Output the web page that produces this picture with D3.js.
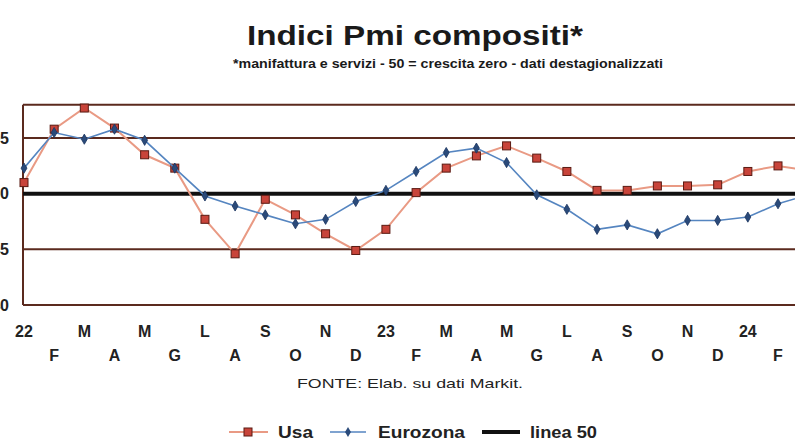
<!DOCTYPE html>
<html><head><meta charset="utf-8">
<script src="https://cdn.jsdelivr.net/npm/d3@7"></script>
<style>body{margin:0;background:#fff}svg{display:block}</style>
</head><body>
<svg id="c" width="795" height="448"></svg>
<script>
const months = ["22","F","M","A","M","G","L","A","S","O","N","D","23","F","M","A","M","G","L","A","S","O","N","D","24","F","M"];
const usa = [51.0,55.8,57.7,55.9,53.5,52.3,47.7,44.6,49.5,48.1,46.4,44.9,46.8,50.1,52.3,53.4,54.3,53.2,52.0,50.3,50.3,50.7,50.7,50.8,52.0,52.5,52.1];
const eurozona = [52.3,55.5,54.9,55.8,54.8,52.3,49.8,48.9,48.1,47.3,47.7,49.3,50.3,52.0,53.7,54.1,52.8,49.9,48.6,46.8,47.2,46.4,47.6,47.6,47.9,49.1,49.9];
const yTicks = [40,45,50,55];
const yMax = 58;
const linea = 50;

const svg = d3.select("#c");
const x = d3.scaleLinear().domain([0,25]).range([24,778]);
const y = d3.scaleLinear().domain([40,yMax]).range([305,104.7]);
const gridColor = "#5b2a1e";
const plotL = 23, plotR = 830;
const FF = "Liberation Sans, Arial, sans-serif";

svg.append("text").attr("x",415).attr("y",45).attr("text-anchor","middle")
  .attr("font-family",FF).attr("font-weight","bold")
  .attr("font-size",28).attr("fill","#1a1a1a").attr("textLength",336).attr("lengthAdjust","spacingAndGlyphs")
  .text("Indici Pmi compositi*");
svg.append("text").attr("x",448).attr("y",68).attr("text-anchor","middle")
  .attr("font-family",FF).attr("font-weight","bold")
  .attr("font-size",12).attr("fill","#1a1a1a").attr("textLength",430).attr("lengthAdjust","spacingAndGlyphs")
  .text("*manifattura e servizi - 50 = crescita zero - dati destagionalizzati");

// gridlines
const grid = yTicks.concat([yMax]).filter(v => v !== 50);
svg.append("g").selectAll("line").data(grid).join("line")
  .attr("x1",plotL).attr("x2",plotR).attr("y1",d=>y(d)).attr("y2",d=>y(d))
  .attr("stroke",gridColor).attr("stroke-width",2);
svg.append("line").attr("x1",plotL).attr("x2",plotL).attr("y1",y(yMax)).attr("y2",y(40))
  .attr("stroke",gridColor).attr("stroke-width",2);
// linea 50
svg.append("line").attr("x1",plotL).attr("x2",plotR).attr("y1",y(linea)).attr("y2",y(linea))
  .attr("stroke","#111").attr("stroke-width",4);

// y labels (cropped at the left edge, as in the reference)
const yAxis = d3.axisLeft(y).tickValues(yTicks).tickSize(0).tickPadding(0);
const ya = svg.append("g").attr("transform","translate(9,0)").call(yAxis);
ya.select(".domain").remove();
ya.selectAll("text").attr("font-family",FF).attr("font-weight","bold")
  .attr("font-size",16).attr("fill","#222");

// x labels
const xa = svg.append("g").attr("font-family",FF).attr("font-weight","bold")
  .attr("font-size",16).attr("fill","#222").attr("text-anchor","middle");
xa.selectAll("text").data(months).join("text")
  .attr("x",(d,i)=>x(i)).attr("y",(d,i)=> i%2===0 ? 337 : 361).text(d=>d);

// series
const lineGen = d3.line().x((d,i)=>x(i)).y(d=>y(d));
svg.append("path").datum(usa).attr("d",lineGen).attr("fill","none").attr("stroke","#e99a84").attr("stroke-width",2);
svg.append("g").selectAll("rect").data(usa).join("rect")
  .attr("x",(d,i)=>x(i)-4).attr("y",d=>y(d)-4).attr("width",8).attr("height",8)
  .attr("fill","#c8443a").attr("stroke","#5a1a12").attr("stroke-width",1);
svg.append("path").datum(eurozona).attr("d",lineGen).attr("fill","none").attr("stroke","#5585c0").attr("stroke-width",1.6);
const diamond = d3.symbol().type(d3.symbolDiamond).size(30);
svg.append("g").selectAll("path").data(eurozona).join("path")
  .attr("transform",(d,i)=>`translate(${x(i)},${y(d)})`).attr("d",diamond)
  .attr("fill","#2a4a7a").attr("stroke","#1c3560").attr("stroke-width",0.8);

// source
svg.append("text").attr("x",410).attr("y",388).attr("text-anchor","middle")
  .attr("font-family",FF).attr("font-size",13).attr("fill","#222")
  .attr("textLength",226).attr("lengthAdjust","spacingAndGlyphs")
  .text("FONTE: Elab. su dati Markit.");

// legend
const lg = svg.append("g").attr("font-family",FF).attr("font-weight","bold")
  .attr("font-size",17).attr("fill","#222").attr("lengthAdjust","spacingAndGlyphs");
lg.append("line").attr("x1",229).attr("x2",268).attr("y1",432).attr("y2",432).attr("stroke","#e99a84").attr("stroke-width",2);
lg.append("rect").attr("x",244).attr("y",428).attr("width",8).attr("height",8).attr("fill","#c8443a").attr("stroke","#5a1a12");
lg.append("text").attr("x",278).attr("y",438).attr("textLength",35).attr("lengthAdjust","spacingAndGlyphs").text("Usa");
lg.append("line").attr("x1",330).attr("x2",366).attr("y1",432).attr("y2",432).attr("stroke","#5585c0").attr("stroke-width",1.6);
lg.append("path").attr("transform","translate(348,432)").attr("d",diamond).attr("fill","#2a4a7a");
lg.append("text").attr("x",378).attr("y",438).attr("textLength",87).attr("lengthAdjust","spacingAndGlyphs").text("Eurozona");
lg.append("line").attr("x1",482).attr("x2",520).attr("y1",432).attr("y2",432).attr("stroke","#111").attr("stroke-width",4);
lg.append("text").attr("x",530).attr("y",438).attr("textLength",67).attr("lengthAdjust","spacingAndGlyphs").text("linea 50");
</script>
</body></html>
